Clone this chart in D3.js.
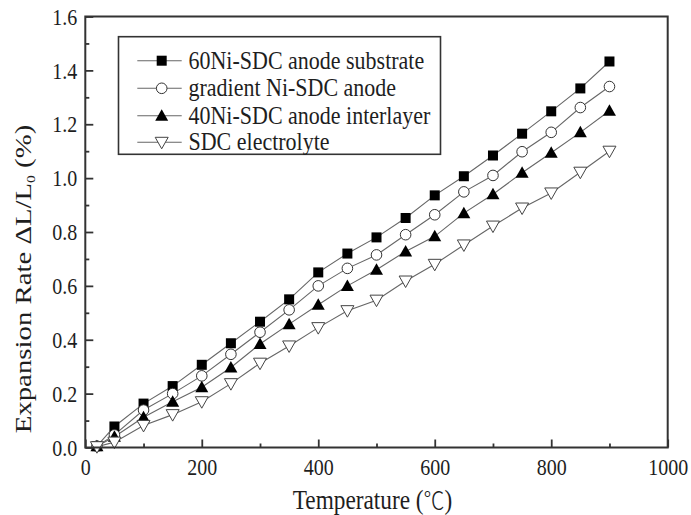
<!DOCTYPE html>
<html><head><meta charset="utf-8">
<script src="https://cdn.jsdelivr.net/npm/d3@7"></script>
<style>body{margin:0;background:#fff}svg{display:block}</style>
</head><body>
<svg id="c" width="691" height="515"></svg>
<script>
const temps = [20,50,100,150,200,250,300,350,400,450,500,550,600,650,700,750,800,850,900];
const sub60 = [0.005,0.078,0.163,0.228,0.307,0.387,0.467,0.55,0.65,0.72,0.78,0.852,0.936,1.007,1.084,1.165,1.248,1.333,1.433];
const grad  = [0.005,0.047,0.139,0.200,0.266,0.346,0.428,0.511,0.60,0.665,0.715,0.79,0.864,0.949,1.01,1.098,1.17,1.262,1.34];
const int40 = [0.005,0.040,0.112,0.170,0.224,0.297,0.384,0.458,0.53,0.60,0.66,0.728,0.784,0.87,0.94,1.02,1.094,1.17,1.25];
const sdc   = [0.003,0.020,0.082,0.122,0.170,0.237,0.313,0.377,0.445,0.508,0.547,0.618,0.68,0.752,0.822,0.889,0.945,1.022,1.10];
const seriesNames = ["60Ni-SDC anode substrate","gradient Ni-SDC anode","40Ni-SDC anode interlayer","SDC electrolyte"];
const seriesSymbols = ["square","circle","triangleUp","triangleDown"];
const xTicks = [0,200,400,600,800,1000];
const xMinorTicks = [100,300,500,700,900];
const yTicks = [0,0.2,0.4,0.6,0.8,1.0,1.2,1.4,1.6];
const yMinorTicks = [0.1,0.3,0.5,0.7,0.9,1.1,1.3,1.5];

const svg = d3.select("#c");
const L=85.3, R=667.7, T=16.5, B=447.5;
const x = d3.scaleLinear().domain([0,1000]).range([L,R]);
const y = d3.scaleLinear().domain([0,1.6]).range([B,T]);
const font = "'Liberation Serif','Times New Roman',serif";
const axisCol = "#333";
const txtCol = "#1e1e1e";
const VS = 1.12; // vertical stretch of the reference's text

const data = [sub60,grad,int40,sdc];

function marker(g, type, cx, cy){
  if(type==="square") g.append("rect").attr("x",cx-5).attr("y",cy-5).attr("width",10).attr("height",10).attr("fill","#000");
  else if(type==="circle") g.append("circle").attr("cx",cx).attr("cy",cy).attr("r",5.3).attr("fill","#fff").attr("stroke","#333").attr("stroke-width",1);
  else if(type==="triangleUp") g.append("path").attr("d",`M${cx},${cy-6.5}L${cx+6.5},${cy+5}L${cx-6.5},${cy+5}Z`).attr("fill","#000");
  else g.append("path").attr("d",`M${cx},${cy+6.5}L${cx+6.5},${cy-5}L${cx-6.5},${cy-5}Z`).attr("fill","#fff").attr("stroke","#444").attr("stroke-width",1);
}

// lines and markers
const line = d3.line().x((d,i)=>x(temps[i])).y(d=>y(d));
data.forEach(s=>{
  svg.append("path").datum(s).attr("d",line).attr("fill","none").attr("stroke","#666").attr("stroke-width",1.1);
});
data.forEach((s,k)=>{
  const g = svg.append("g");
  s.forEach((v,i)=>marker(g, seriesSymbols[k], x(temps[i]), y(v)));
});

// axes
const xAxis = d3.axisBottom(x).tickValues(xTicks).tickSize(-8).tickPadding(0).tickFormat(d3.format("d"));
const gx = svg.append("g").attr("transform",`translate(0,${B})`).call(xAxis);
svg.append("g").attr("transform",`translate(0,${B})`)
  .call(d3.axisBottom(x).tickValues(xMinorTicks).tickSize(-4).tickFormat(""));
const yAxis = d3.axisLeft(y).tickValues(yTicks).tickSize(-8).tickPadding(8).tickFormat(d3.format(".1f"));
const gy = svg.append("g").attr("transform",`translate(${L},0)`).call(yAxis);
svg.append("g").attr("transform",`translate(${L},0)`)
  .call(d3.axisLeft(y).tickValues(yMinorTicks).tickSize(-4).tickFormat(""));
svg.selectAll(".domain").remove();
svg.selectAll(".tick line").attr("stroke",axisCol).attr("stroke-width",1.8);
svg.selectAll(".tick text").attr("font-family",font).attr("font-size",20).attr("fill",txtCol);
gx.selectAll(".tick text").attr("y",27.5/VS).attr("dy",0).attr("transform",`scale(1,${VS})`);
gy.selectAll(".tick text").attr("dy","0.34em").attr("transform",`scale(1,${VS})`);

// frame
svg.append("rect").attr("x",L).attr("y",T).attr("width",R-L).attr("height",B-T)
  .attr("fill","none").attr("stroke",axisCol).attr("stroke-width",2);

// x title
const xt = svg.append("text").attr("transform",`translate(292.7,509.3) scale(1,${VS+0.02})`)
  .attr("font-family",font).attr("font-size",23.3).attr("fill",txtCol);
xt.append("tspan").text("Temperature (");
xt.append("tspan").attr("font-family","'Noto Sans CJK SC',sans-serif").attr("font-size",21).attr("font-weight",300).text("\u2103");
xt.append("tspan").text(")");

// y title
const yt = svg.append("text").attr("transform","translate(31,279) rotate(-90) scale(1.2,1)").attr("text-anchor","middle")
  .attr("font-family",font).attr("font-size",24).attr("fill",txtCol);
yt.append("tspan").text("Expansion Rate \u0394L/L");
yt.append("tspan").attr("font-size",13).attr("dy",4).text("0");
yt.append("tspan").attr("dy",-4).text(" (%)");

// legend
const lg = svg.append("g");
lg.append("rect").attr("x",118.5).attr("y",36.7).attr("width",322).attr("height",117.6)
  .attr("fill","#fff").attr("stroke",axisCol).attr("stroke-width",1.6);
const ly = [60.7,88.3,115.7,142.3];
seriesNames.forEach((n,k)=>{
  lg.append("line").attr("x1",137.3).attr("x2",181.7).attr("y1",ly[k]).attr("y2",ly[k]).attr("stroke","#666").attr("stroke-width",1.1);
  marker(lg, seriesSymbols[k], 161.7, ly[k]);
  lg.append("text").attr("transform",`translate(188.5,${ly[k]}) scale(1,${VS})`).attr("dy","0.33em").attr("font-family",font)
    .attr("font-size",22).attr("fill",txtCol).text(n);
});
</script>
</body></html>
